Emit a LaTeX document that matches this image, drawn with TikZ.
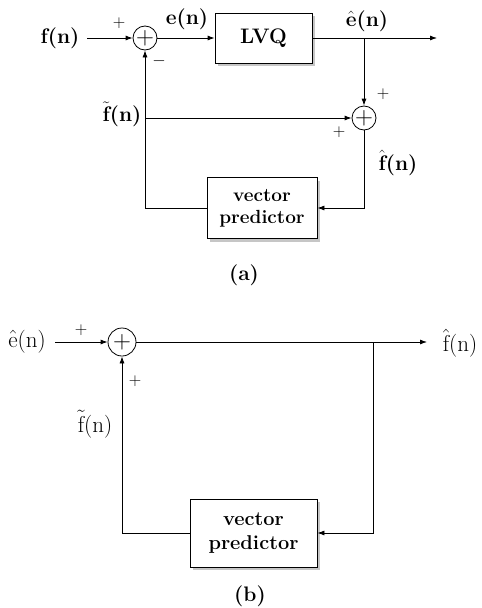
\documentclass[tikz,border=0pt]{standalone}
\usepackage{tikz}
\usetikzlibrary{shapes}
\usetikzlibrary{arrows.meta}
\usetikzlibrary{shadows}

\begin{document}
\begin{tikzpicture}[x=1pt,y=-1pt,>={Latex[length=7pt,width=5pt]},line width=0.8pt]
    \tikzstyle{block}=[rectangle,draw,fill=white,align=center,drop shadow={shadow xshift=3pt,shadow yshift=-3pt,fill=gray!45,opacity=1}]
    \tikzstyle{sum}=[circle,draw,inner sep=0pt,minimum size=24pt,font=\fontsize{26}{26}\selectfont]
    \tikzstyle{lbl}=[inner sep=1pt,font=\fontsize{21}{24}\selectfont\bfseries]
    \tikzstyle{lblb}=[inner sep=1pt,font=\fontsize{23}{26}\selectfont]
    \tikzstyle{sign}=[font=\fontsize{19}{19}\selectfont]
    \useasboundingbox (0,0) rectangle (482,608);
    % (a)
    \node[lbl] (fin) at (60,38) {f(n)};
    \coordinate (fst) at (87,38);
    \node[sum] (s1) at (145,38) {$+$};
    \node[block,lbl,minimum width=97pt,minimum height=50pt] (lvq) at (263.5,38) {LVQ};
    \coordinate (eout) at (437,38);
    \coordinate (j1) at (364,38);
    \node[sum] (s2) at (364,118) {$+$};
    \node[block,font=\fontsize{19}{22}\selectfont\bfseries,minimum width=110pt,minimum height=61pt] (pred) at (262,208) {vector\\predictor};
    \coordinate (j2) at (145,118);
    \draw[->] (fst) -- (s1);
    \draw[->] (s1) -- (lvq);
    \draw[->] (lvq) -- (eout);
    \draw[->] (j1) -- (s2);
    \draw[->] (s2) |- (pred);
    \draw[->] (pred) -| (s1);
    \draw[->] (j2) -- (s2);
    \node[lbl] (en) at (187,19) {e(n)};
    \node[lbl] (ehat) at (367,21) {$\hat{\textbf{e}}$(n)};
    \node[lbl] (ftil) at (122,114) {$\tilde{\textbf{f}}$(n)};
    \node[lbl] (fhat) at (398,163) {$\hat{\textbf{f}}$(n)};
    \node[sign] (p1) at (119,23) {$+$};
    \node[sign] (m1) at (159,61) {$-$};
    \node[sign] (p2) at (383,94) {$+$};
    \node[sign] (p3) at (339,132) {$+$};
    \node[lbl] (capa) at (244,275) {(a)};
    % (b)
    \node[lblb] (ein) at (27,342) {$\hat{\textrm{e}}$(n)};
    \coordinate (est) at (55,342);
    \node[sum,minimum size=28pt] (s3) at (122,342) {$+$};
    \coordinate (fout) at (427,342);
    \node[lblb] (fout2) at (460,343) {$\hat{\textrm{f}}$(n)};
    \coordinate (j3) at (373,342);
    \node[block,font=\fontsize{20}{24}\selectfont\bfseries,minimum width=127pt,minimum height=68pt] (pred2) at (253.5,533) {vector\\predictor};
    \draw[->] (est) -- (s3);
    \draw[->] (s3) -- (fout);
    \draw[->] (j3) |- (pred2);
    \draw[->] (pred2) -| (s3);
    \node[sign] (p4) at (81,330) {$+$};
    \node[sign] (p5) at (135,381) {$+$};
    \node[lblb] (ftil2) at (95,424) {$\tilde{\textrm{f}}$(n)};
    \node[lbl] (capb) at (250,596) {(b)};
\end{tikzpicture}
\end{document}
